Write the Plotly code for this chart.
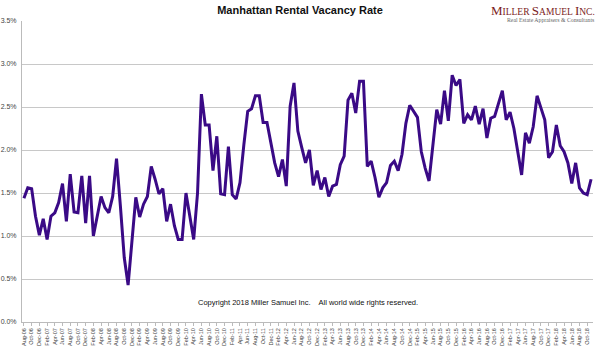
import plotly.graph_objects as go

months = ["Jan","Feb","Mar","Apr","May","Jun","Jul","Aug","Sep","Oct","Nov","Dec"]
categories = []
y, m = 2006, 7
for _ in range(148):
    categories.append(f"{months[m]}-{str(y)[2:]}")
    m += 1
    if m == 12:
        m = 0
        y += 1

vacancy = [
    1.44, 1.56, 1.55, 1.23, 1.01, 1.20, 0.96, 1.23, 1.27, 1.39,
    1.61, 1.17, 1.72, 1.28, 1.27, 1.70, 1.15, 1.70, 1.00, 1.25,
    1.46, 1.33, 1.27, 1.46, 1.90, 1.35, 0.75, 0.43, 0.94, 1.45,
    1.22, 1.37, 1.46, 1.81, 1.66, 1.49, 1.55, 1.17, 1.37, 1.12,
    0.96, 0.96, 1.50, 1.23, 0.96, 1.50, 2.65, 2.29, 2.29, 1.76,
    2.16, 1.49, 1.48, 2.04, 1.48, 1.43, 1.62, 2.06, 2.45, 2.48,
    2.63, 2.63, 2.32, 2.32, 2.06, 1.85, 1.69, 1.89, 1.58, 2.51,
    2.78, 2.22, 2.03, 1.85, 2.00, 1.59, 1.76, 1.54, 1.68, 1.46,
    1.58, 1.60, 1.83, 1.93, 2.58, 2.66, 2.43, 2.80, 2.80, 1.81,
    1.87, 1.68, 1.45, 1.56, 1.62, 1.82, 1.87, 1.76, 1.95, 2.31,
    2.52, 2.45, 2.38, 1.98, 1.79, 1.64, 2.04, 2.47, 2.30, 2.69,
    2.34, 2.87, 2.75, 2.82, 2.31, 2.41, 2.35, 2.51, 2.30, 2.48,
    2.14, 2.37, 2.39, 2.53, 2.69, 2.35, 2.44, 2.25, 2.00, 1.71,
    2.20, 2.08, 2.27, 2.63, 2.49, 2.35, 1.91, 1.98, 2.29, 2.05,
    1.98, 1.85, 1.61, 1.85, 1.56, 1.50, 1.48, 1.66,
]
vacancy_frac = [v / 100 for v in vacancy]

tick_labels = categories[::2]
y_ticks = [0, 0.005, 0.01, 0.015, 0.02, 0.025, 0.03, 0.035]

fig = go.Figure()
fig.add_trace(go.Scatter(
    x=categories, y=vacancy_frac, mode="lines",
    line=dict(color="#3a0a86", width=3),
    hoverinfo="x+y",
))

fig.update_layout(
    width=600, height=357,
    margin=dict(l=22, r=7, t=21, b=35),
    paper_bgcolor="white", plot_bgcolor="white",
    showlegend=False,
    font=dict(family="Liberation Sans, Arial, sans-serif", color="#333"),
    title=dict(text="<b>Manhattan Rental Vacancy Rate</b>", x=0.5, xanchor="center",
               y=0.972, yanchor="middle",
               font=dict(size=11, color="#111", family="Liberation Sans, Arial, sans-serif")),
    xaxis=dict(
        type="category", range=[-0.5, 147.5], automargin=False,
        tickmode="array", tickvals=tick_labels, ticktext=tick_labels,
        tickangle=-90, tickfont=dict(size=5.5, color="#444"),
        showgrid=False, showline=True, linecolor="#bbb", linewidth=1,
        ticks="outside", ticklen=3, tickcolor="#bbb",
        zeroline=False,
    ),
    yaxis=dict(
        range=[0, 0.035], tickmode="array", tickvals=y_ticks, automargin=False,
        tickformat=".1%", tickfont=dict(size=7, color="#444"),
        showgrid=True, gridcolor="#c8c8c8", gridwidth=1,
        showline=True, linecolor="#bbb", linewidth=1,
        zeroline=False, ticks="", ticklabelstandoff=3,
    ),
)

fig.add_annotation(
    text="Copyright 2018 Miller Samuel Inc.    All world wide rights reserved.",
    xref="paper", yref="paper", x=0.5, y=0.066, xanchor="center", yanchor="middle",
    showarrow=False, font=dict(size=7.5, color="#111", family="Liberation Sans, Arial, sans-serif"),
)

logo = ("<span style='font-size:13px'>M</span>ILLER "
        "<span style='font-size:13px'>S</span>AMUEL "
        "<span style='font-size:13px'>I</span>NC.")
fig.add_annotation(
    text=logo, xref="paper", yref="paper", x=1.0, y=1.0, xanchor="right", yanchor="top",
    xshift=4, yshift=20, showarrow=False,
    font=dict(size=9.5, color="#7b1c1c", family="Liberation Serif, Times New Roman, serif"),
)
fig.add_annotation(
    text="Real Estate Appraisers &amp; Consultants", xref="paper", yref="paper",
    x=1.0, y=1.0, xanchor="right", yanchor="top", xshift=4, yshift=6, showarrow=False,
    font=dict(size=5.8, color="#666", family="Liberation Serif, Times New Roman, serif"),
)

fig.write_html("out.html", config={"displayModeBar": False},
               post_script="document.body.style.margin='0';")
